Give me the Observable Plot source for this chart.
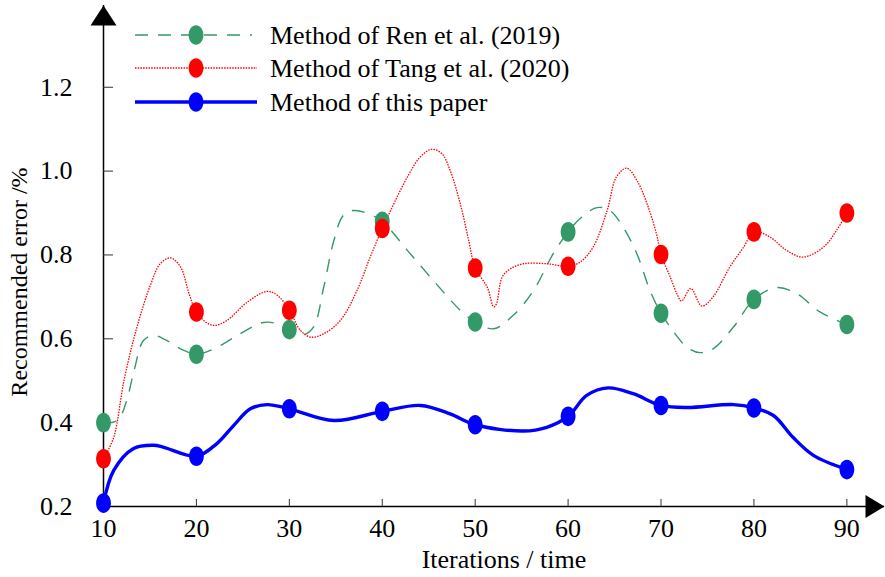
<!DOCTYPE html>
<html>
<head>
<meta charset="utf-8">
<script src="https://cdn.jsdelivr.net/npm/d3@7"></script>
<script src="https://cdn.jsdelivr.net/npm/@observablehq/plot@0.6"></script>
<style>
  html, body { margin: 0; padding: 0; background: #fff; }
  #chart { position: relative; width: 885px; height: 577px; }
</style>
</head>
<body>
<div id="chart"></div>
<script>
// ---------- data ----------
const iterations = [10, 20, 30, 40, 50, 60, 70, 80, 90];
const renValues  = [0.40, 0.563, 0.622, 0.88, 0.64, 0.855, 0.661, 0.694, 0.634];
const tangValues = [0.314, 0.664, 0.668, 0.863, 0.769, 0.773, 0.801, 0.855, 0.90];
const oursValues = [0.208, 0.32, 0.433, 0.427, 0.395, 0.415, 0.441, 0.435, 0.288];

// curve traces: [iteration, error]
const renCurve = [
  [10,0.40],[11.5,0.405],[12.4,0.446],[13.3,0.525],[14.3,0.596],[15.4,0.608],[16.8,0.596],[18.3,0.576],
  [20,0.563],[21.9,0.576],[24.7,0.612],[27.2,0.639],[28.7,0.636],[30,0.622],[31.5,0.61],[32.6,0.628],
  [33.7,0.723],[34.8,0.835],[35.8,0.894],[36.9,0.906],[38.4,0.899],[40,0.88],[42.7,0.811],[45.5,0.739],
  [48.4,0.668],[50,0.64],[52.0,0.624],[54.1,0.656],[56.3,0.716],[58.4,0.803],[60,0.855],[61.3,0.887],
  [63.1,0.913],[64.5,0.906],[65.9,0.867],[67.4,0.803],[68.8,0.716],[70,0.661],[71.0,0.628],[72.8,0.580],
  [74.2,0.567],[75.6,0.576],[77.8,0.628],[80,0.694],[82.4,0.722],[84.6,0.708],[87.1,0.664],[90,0.634]
];
const tangCurve = [
  [10,0.314],[11.1,0.365],[12.2,0.50],[13.6,0.628],[15.1,0.731],[16.1,0.779],[17.2,0.793],[18.3,0.771],
  [19.2,0.708],[20,0.664],[21.2,0.637],[22.0,0.632],[23.3,0.644],[25.5,0.688],[27.6,0.713],[28.7,0.704],
  [30,0.668],[31.2,0.62],[32.3,0.604],[33.7,0.612],[35.5,0.644],[37.3,0.716],[38.7,0.795],[40,0.863],
  [40.9,0.906],[42.7,0.986],[44.1,1.034],[45.3,1.052],[46.4,1.042],[47.3,1.002],[48.4,0.922],[49.3,0.835],
  [50,0.769],[51.3,0.723],[52.0,0.676],[52.3,0.684],[52.9,0.747],[53.8,0.767],[55.2,0.779],[57.7,0.779],
  [60,0.773],[61.3,0.783],[62.7,0.819],[64.2,0.906],[65.2,0.986],[66.3,1.007],[67.4,0.978],[68.5,0.922],
  [69.5,0.851],[70,0.801],[71.0,0.747],[71.7,0.708],[72.2,0.690],[73.2,0.720],[74.4,0.678],[75.6,0.70],
  [77.4,0.771],[78.9,0.819],[80,0.855],[81.7,0.843],[83.5,0.811],[85.3,0.795],[87.5,0.819],[88.9,0.859],[90,0.90]
];
const oursCurve = [
  [10,0.208],[11.1,0.286],[13.2,0.338],[15.4,0.346],[16.5,0.341],[20,0.32],[22.2,0.35],[24.0,0.393],
  [25.8,0.433],[27.6,0.443],[30,0.433],[34.8,0.405],[40,0.427],[44.1,0.441],[47.3,0.421],[50,0.395],
  [55.2,0.380],[57.7,0.389],[60,0.415],[62.0,0.465],[64.3,0.483],[67.0,0.469],[70,0.441],[72.8,0.436],
  [77.8,0.443],[80,0.435],[82.1,0.417],[84.2,0.365],[86.4,0.322],[90,0.288]
];

const xTicks = [10, 20, 30, 40, 50, 60, 70, 80, 90];
const yTicks = [0.2, 0.4, 0.6, 0.8, 1.0, 1.2];
const seriesNames = ["Method of Ren et al. (2019)", "Method of Tang et al. (2020)", "Method of this paper"];
const xTitle = "Iterations / time";
const yTitle = "Recommended error /%";

// ---------- styles ----------
const FONT = "'Liberation Serif', 'Times New Roman', serif";
const GREEN = "#339966", RED = "#ff0000", BLUE = "#0000ff";
const styles = [
  {color: GREEN, width: 1.4, dash: "13,10"},
  {color: RED, width: 1.3, dash: "1.5,1.2"},
  {color: BLUE, width: 3.4, dash: null}
];

const W = 885, H = 577, ML = 103, MR = 1, MT = 5, MB = 71;
const frameW = W - ML - MR, frameH = H - MT - MB;

const ellipse = {
  draw(ctx) {
    const rx = 7.4, ry = 9.8, k = 0.5523;
    ctx.moveTo(rx, 0);
    ctx.bezierCurveTo(rx, ry * k, rx * k, ry, 0, ry);
    ctx.bezierCurveTo(-rx * k, ry, -rx, ry * k, -rx, 0);
    ctx.bezierCurveTo(-rx, -ry * k, -rx * k, -ry, 0, -ry);
    ctx.bezierCurveTo(rx * k, -ry, rx, -ry * k, rx, 0);
    ctx.closePath();
  }
};
const arrowUp = { draw(ctx) { ctx.moveTo(0, 0); ctx.lineTo(13, 20); ctx.lineTo(-13, 20); ctx.closePath(); } };
const arrowRight = { draw(ctx) { ctx.moveTo(0, 0); ctx.lineTo(-19, -11.5); ctx.lineTo(-19, 11.5); ctx.closePath(); } };

const xDomain = [10, 94.05];
const yDomain = [0.2, 1.395];

const markerSets = [renValues, tangValues, oursValues].map(vals => iterations.map((x, i) => ({x, y: vals[i]})));
const curves = [renCurve, tangCurve, oursCurve];

const marks = [];
// axes lines
marks.push(Plot.ruleX([xDomain[0]], {stroke: "#000", strokeWidth: 1.5}));
marks.push(Plot.ruleY([yDomain[0]], {stroke: "#000", strokeWidth: 1.5}));
// inward ticks
marks.push(Plot.ruleX(xTicks.slice(1), {x: d => d, stroke: "#333", strokeWidth: 1, insetTop: frameH - 7}));
marks.push(Plot.ruleY(yTicks.slice(1), {y: d => d, stroke: "#333", strokeWidth: 1, insetRight: frameW - 10}));
// arrowheads
marks.push(Plot.dot([{x: xDomain[0], y: yDomain[1]}], {x: "x", y: "y", symbol: arrowUp, fill: "#000", stroke: "none"}));
marks.push(Plot.dot([{x: xDomain[1], y: yDomain[0]}], {x: "x", y: "y", symbol: arrowRight, fill: "#000", stroke: "none"}));
// tick labels
marks.push(Plot.text(xTicks, {x: d => d, frameAnchor: "bottom", dy: 30, text: d => String(d),
  fontSize: 26, fontFamily: FONT, fill: "#000"}));
marks.push(Plot.text(yTicks, {y: d => d, frameAnchor: "left", dx: -31, textAnchor: "end", text: d => d.toFixed(1),
  fontSize: 26, fontFamily: FONT, fill: "#000"}));
// curves
curves.forEach((c, i) => {
  const s = styles[i];
  marks.push(Plot.line(c, {x: d => d[0], y: d => d[1], curve: "catmull-rom", stroke: s.color,
    strokeWidth: s.width, strokeDasharray: s.dash, strokeLinecap: "butt"}));
});
// markers
markerSets.forEach((m, i) => {
  marks.push(Plot.dot(m, {x: "x", y: "y", symbol: ellipse, fill: styles[i].color, stroke: "none"}));
});

const plot = Plot.plot({
  width: W, height: H,
  marginLeft: ML, marginRight: MR, marginTop: MT, marginBottom: MB,
  x: {domain: xDomain, axis: null},
  y: {domain: yDomain, axis: null},
  style: {background: "#fff", fontFamily: FONT},
  marks
});

const svg = d3.select(plot);
// axis titles
svg.append("text").attr("x", 504).attr("y", 568).attr("text-anchor", "middle")
  .attr("font-family", FONT).attr("font-size", 26).attr("fill", "#000").text(xTitle);
svg.append("text").attr("transform", "translate(27,282) rotate(-90)").attr("text-anchor", "middle")
  .attr("font-family", FONT).attr("font-size", 24).attr("fill", "#000").text(yTitle);

// legend
const legendYs = [35, 68, 102];
const lg = svg.append("g");
seriesNames.forEach((name, i) => {
  const s = styles[i], y = legendYs[i];
  lg.append("line").attr("x1", 135).attr("x2", i === 0 ? 252 : 257).attr("y1", y).attr("y2", y)
    .attr("stroke", s.color).attr("stroke-width", s.width).attr("stroke-dasharray", s.dash);
  lg.append("path").attr("transform", `translate(196,${y})`)
    .attr("d", d3.symbol(ellipse)()).attr("fill", s.color);
  lg.append("text").attr("x", 270).attr("y", y + 9).attr("text-anchor", "start")
    .attr("font-family", FONT).attr("font-size", 26).attr("fill", "#000").text(name);
});

document.getElementById("chart").appendChild(plot);
</script>
</body>
</html>
